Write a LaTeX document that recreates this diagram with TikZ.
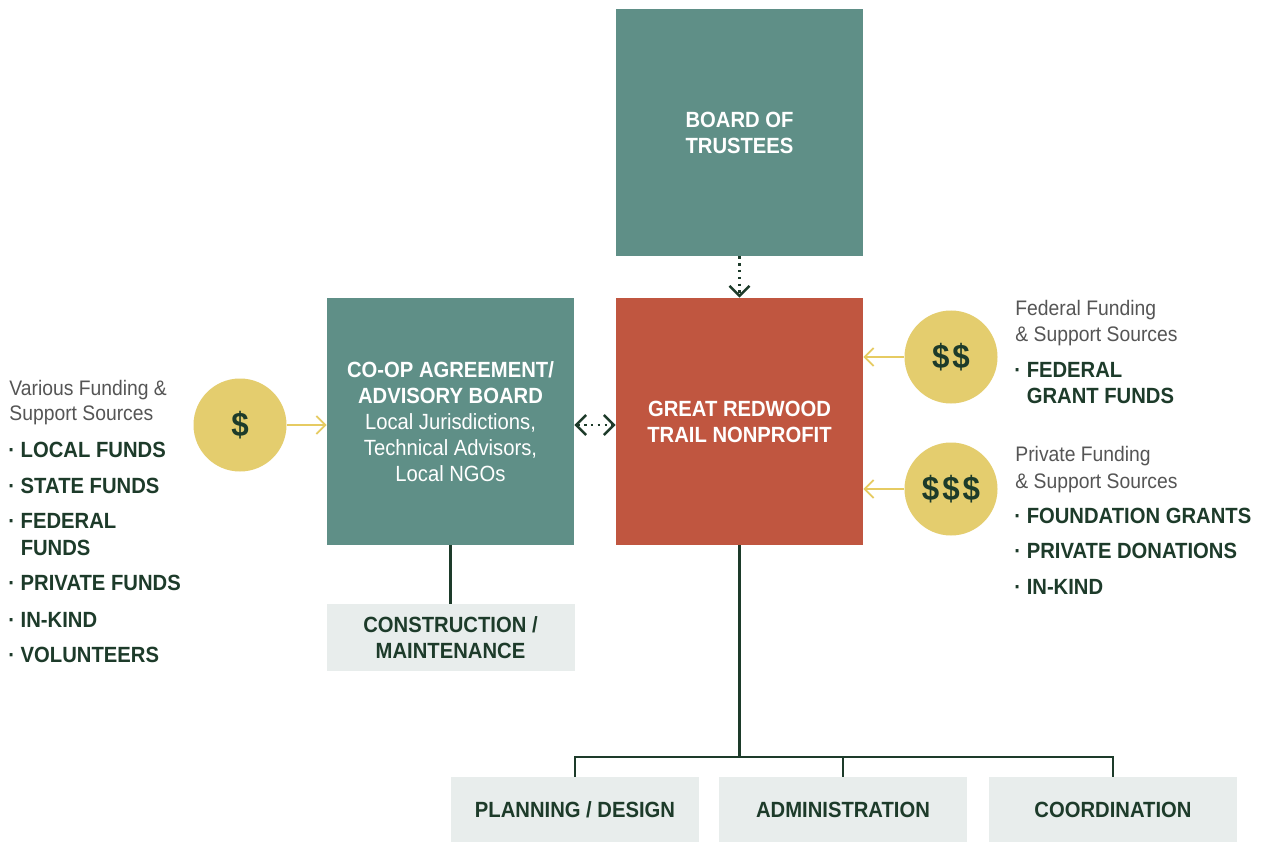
\documentclass[tikz,border=0pt]{standalone}
\usepackage{fontspec}
\setmainfont{Liberation Sans}[FakeStretch=0.92]
\usetikzlibrary{arrows.meta}
\definecolor{trailteal}{HTML}{5F8F87}
\definecolor{trailred}{HTML}{C05640}
\definecolor{coin}{HTML}{E4CD6E}
\definecolor{coinln}{HTML}{E6CB62}
\definecolor{palebox}{HTML}{E8EDEC}
\definecolor{pine}{HTML}{1D3B2A}
\definecolor{srcgray}{HTML}{555555}
\tikzset{
  bigbox/.style  = {minimum width=123.5pt, minimum height=123.5pt, inner sep=0pt,
                    text=white, align=center, font=\fontsize{11}{13}\selectfont\bfseries},
  unitbox/.style = {fill=palebox, minimum width=124pt, minimum height=32.5pt, inner sep=0pt,
                    text=pine, align=center, font=\fontsize{11}{13}\selectfont\bfseries},
  coinnd/.style  = {circle, fill=coin, minimum size=46.5pt, inner sep=0pt,
                    text=pine, font=\fontsize{17}{17}\selectfont\bfseries},
  flowarr/.style = {-{Straight Barb[length=4.5pt,width=9pt]}, coinln, line width=0.9pt},
  linkarr/.style = {-{Straight Barb[length=5pt,width=10pt]}, pine, line width=1.2pt,
                    dash pattern=on 1.2pt off 2.2pt},
  branch/.style  = {pine, line width=1.1pt},
  srchead/.style = {anchor=base west, inner sep=0pt, text=srcgray,
                    font=\fontsize{10.5}{13}\selectfont},
  srcitem/.style = {anchor=base west, inner sep=0pt, text=pine,
                    font=\fontsize{11}{13}\selectfont\bfseries}
}

\begin{document}
\begin{tikzpicture}[x=0.5pt, y=-0.5pt]
  % --- page, in pixel units of the reference ------------------------------
  \fill[white] (0,0) rectangle (1262,844);
  \useasboundingbox (0,0) rectangle (1262,844);

  % --- the three main boxes ----------------------------------------------
  \node[bigbox, fill=trailteal] (trustees) at (739.5,132.5) {BOARD OF\\TRUSTEES};
  \node[bigbox, fill=trailred] (nonprofit) at (739.5,421.5)
        {GREAT REDWOOD\\TRAIL NONPROFIT};
  \node[bigbox, fill=trailteal] (coop) at (450.5,421.5)
        {CO-OP AGREEMENT/\\ADVISORY BOARD\\{\mdseries Local Jurisdictions,}\\
         {\mdseries Technical Advisors,}\\{\mdseries Local NGOs}};

  % dotted links between them
  \draw[linkarr] (trustees.south) -- (nonprofit.north);
  \draw[linkarr, {Straight Barb[length=5pt,width=10pt]}-{Straight Barb[length=5pt,width=10pt]}]
        (coop.east |- 0,425) -- (nonprofit.west |- 0,425);

  % --- units under the boxes ---------------------------------------------
  \node[unitbox, minimum height=33.5pt] (construct) at (450.5,637.5)
        {CONSTRUCTION /\\MAINTENANCE};
  \draw[branch] (coop.south) -- (construct.north);

  \node[unitbox] (planning) at (575,809.5)  {PLANNING / DESIGN};
  \node[unitbox] (admin)    at (843,809.5)  {ADMINISTRATION};
  \node[unitbox] (coord)    at (1113,809.5) {COORDINATION};
  \coordinate (split) at (739.5,757);
  \draw[branch] (nonprofit.south) -- (split);
  \draw[branch] (planning.north) |- (coord.north |- split) -- (coord.north);
  \draw[branch] (admin.north) -- (admin.north |- split);

  % --- funding coins and their arrows ------------------------------------
  \node[coinnd] (fund1) at (240,425) {\$};
  \node[coinnd] (fund2) at (951,357) {\$\kern1.5pt\$};
  \node[coinnd] (fund3) at (951,489) {\$\kern1.5pt\$\kern1.5pt\$};
  \draw[flowarr] (fund1.east) -- (fund1.east -| coop.west);
  \draw[flowarr] (fund2.west) -- (fund2.west -| nonprofit.east);
  \draw[flowarr] (fund3.west) -- (fund3.west -| nonprofit.east);

  % --- source lists --------------------------------------------------------
  \node[srchead] (lhead1) at (9,395) {Various Funding \&};
  \node[srchead] (lhead2) at (9,420) {Support Sources};
  \foreach \yy/\txt [count=\i] in {457/{· LOCAL FUNDS}, 493/{· STATE FUNDS},
      528/{· FEDERAL}, 555/{\phantom{· }FUNDS}, 590/{· PRIVATE FUNDS},
      627/{· IN-KIND}, 662/{· VOLUNTEERS}}
    \node[srcitem] (litem\i) at (8,\yy) {\txt};

  \node[srchead] (rhead1) at (1015,315) {Federal Funding};
  \node[srchead] (rhead2) at (1015,342) {\& Support Sources};
  \node[srchead] (rhead3) at (1015,461) {Private Funding};
  \node[srchead] (rhead4) at (1015,488) {\& Support Sources};
  \foreach \yy/\txt [count=\i] in {378/{· FEDERAL}, 403/{\phantom{· }GRANT FUNDS},
      523/{· FOUNDATION GRANTS}, 558/{· PRIVATE DONATIONS}, 594/{· IN-KIND}}
    \node[srcitem] (ritem\i) at (1014,\yy) {\txt};
\end{tikzpicture}
\end{document}
